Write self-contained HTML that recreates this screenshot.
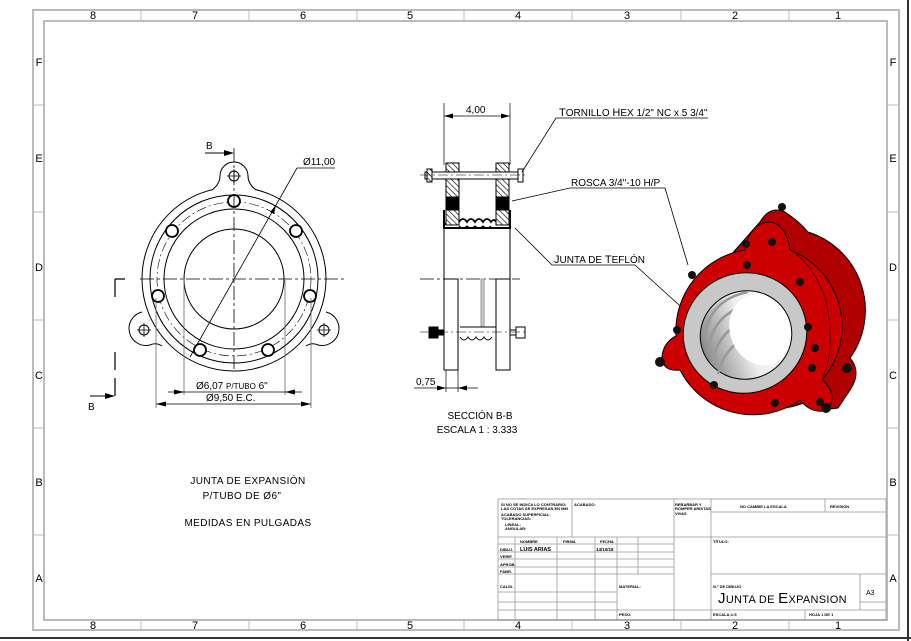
<!DOCTYPE html>
<html><head><meta charset="utf-8"><style>
html,body{margin:0;padding:0;background:#fff;}
svg{display:block;font-family:"Liberation Sans","DejaVu Sans",sans-serif;}
</style></head><body>
<svg width="911" height="641" viewBox="0 0 911 641" xmlns="http://www.w3.org/2000/svg">
<defs>
<pattern id="h" width="4" height="4" patternUnits="userSpaceOnUse" patternTransform="rotate(-45)">
<rect width="4" height="4" fill="#fff"/><line x1="0" y1="0" x2="0" y2="4" stroke="#000" stroke-width="1.3"/></pattern>
<linearGradient id="bore" x1="0" y1="0" x2="1" y2="0"><stop offset="0" stop-color="#888"/><stop offset="0.5" stop-color="#eee"/><stop offset="1" stop-color="#fff"/></linearGradient>
</defs>
<rect width="911" height="641" fill="#fff"/>
<line x1="908" y1="0" x2="908" y2="641" stroke="#333" stroke-width="2"/>
<line x1="0" y1="638" x2="911" y2="638" stroke="#333" stroke-width="2"/>
<rect x="33" y="10" width="866" height="620" fill="none" stroke="#bbb" stroke-width="2"/>
<rect x="44" y="21" width="843" height="599" fill="none" stroke="#bbb" stroke-width="2"/>
<g stroke="#bbb" stroke-width="1">
<line x1="141" y1="10" x2="141" y2="21"/><line x1="249" y1="10" x2="249" y2="21"/><line x1="357" y1="10" x2="357" y2="21"/><line x1="464" y1="10" x2="464" y2="21"/><line x1="572" y1="10" x2="572" y2="21"/><line x1="681" y1="10" x2="681" y2="21"/><line x1="789" y1="10" x2="789" y2="21"/>
<line x1="141" y1="620" x2="141" y2="630"/><line x1="249" y1="620" x2="249" y2="630"/><line x1="357" y1="620" x2="357" y2="630"/><line x1="464" y1="620" x2="464" y2="630"/><line x1="572" y1="620" x2="572" y2="630"/><line x1="681" y1="620" x2="681" y2="630"/><line x1="789" y1="620" x2="789" y2="630"/>
<line x1="33" y1="105" x2="44" y2="105"/><line x1="33" y1="212" x2="44" y2="212"/><line x1="33" y1="320" x2="44" y2="320"/><line x1="33" y1="428" x2="44" y2="428"/><line x1="33" y1="535" x2="44" y2="535"/>
<line x1="887" y1="105" x2="899" y2="105"/><line x1="887" y1="212" x2="899" y2="212"/><line x1="887" y1="320" x2="899" y2="320"/><line x1="887" y1="428" x2="899" y2="428"/><line x1="887" y1="535" x2="899" y2="535"/>
</g>
<g font-size="11" fill="#000" text-anchor="middle">
<text x="93" y="19">8</text><text x="195" y="19">7</text><text x="303" y="19">6</text><text x="410" y="19">5</text><text x="518" y="19">4</text><text x="627" y="19">3</text><text x="735" y="19">2</text><text x="838" y="19">1</text>
<text x="93" y="629">8</text><text x="195" y="629">7</text><text x="303" y="629">6</text><text x="410" y="629">5</text><text x="518" y="629">4</text><text x="627" y="629">3</text><text x="735" y="629">2</text><text x="838" y="629">1</text>
<text x="39" y="66">F</text><text x="39" y="162">E</text><text x="39" y="271">D</text><text x="39" y="379">C</text><text x="39" y="486">B</text><text x="39" y="582">A</text>
<text x="893" y="66">F</text><text x="893" y="162">E</text><text x="893" y="271">D</text><text x="893" y="379">C</text><text x="893" y="486">B</text><text x="893" y="582">A</text>
</g>

<!-- FRONT VIEW -->
<g fill="none" stroke="#000" stroke-width="1">
<circle cx="234" cy="279" r="92"/>
<path d="M212,190 Q220,184 220,176 A14,14 0 1 1 248,176 Q248,184 256,190" fill="#fff"/>
<path d="M142,312 A14,14 0 1 0 150,345 Q156,342 162,346" fill="none"/>
<path d="M326,312 A14,14 0 1 1 318,345 Q312,342 306,346" fill="none"/>
<circle cx="234" cy="279" r="84"/>
<circle cx="234" cy="279" r="70"/>
<circle cx="234" cy="279" r="50"/>
<circle cx="234" cy="279" r="77" stroke-dasharray="10,3,2,3" stroke-width="0.6"/>
<g stroke-width="1.8" fill="#fff">
<circle cx="234" cy="201" r="6"/><circle cx="172" cy="231" r="6"/><circle cx="296" cy="231" r="6"/>
<circle cx="158" cy="296" r="6"/><circle cx="310" cy="296" r="6"/><circle cx="200" cy="350" r="6"/><circle cx="268" cy="350" r="6"/>
</g>
<circle cx="234" cy="176" r="5"/><circle cx="144" cy="330" r="5"/><circle cx="324" cy="330" r="5"/>
<path d="M227,176h14M234,169v14M137,330h14M144,323v14M317,330h14M324,323v14" stroke-width="0.8"/>
<line x1="234" y1="148" x2="234" y2="370" stroke-dasharray="14,3,3,3" stroke-width="0.8"/>
<line x1="140" y1="279" x2="345" y2="279" stroke-dasharray="14,3,3,3" stroke-width="0.8"/>
<path d="M115,279h10M115,279v18M115,352v18M115,378v18" stroke-width="1.2"/>
<g stroke="#666" stroke-width="0.8">
<line x1="184" y1="280" x2="184" y2="395"/><line x1="285" y1="280" x2="285" y2="395"/>
<line x1="156" y1="298" x2="156" y2="408"/><line x1="311" y1="298" x2="311" y2="408"/>
</g>
<line x1="168" y1="392" x2="302" y2="392" stroke-width="0.8"/>
<line x1="156" y1="404" x2="311" y2="404" stroke-width="0.8"/>
<line x1="190" y1="357" x2="297" y2="168" stroke-width="0.8"/><line x1="297" y1="168" x2="335" y2="168" stroke-width="0.8"/>
<line x1="205" y1="153" x2="228" y2="153"/><line x1="90" y1="396" x2="110" y2="396"/>
</g>
<g fill="#000">
<path d="M234,153 l-10,-3 v6z"/><path d="M115,396 l-10,-3 v6z"/>
<path d="M184,392 l-10,-2.5 v5z"/><path d="M285,392 l10,-2.5 v5z"/>
<path d="M156,404 l10,-2.5 v5z"/><path d="M311,404 l-10,-2.5 v5z"/>
<path d="M276,205 l-2,9 -4,-2z"/>
</g>
<g font-size="10" fill="#000">
<text x="206" y="149">B</text><text x="88" y="410">B</text>
<text x="303" y="165">Ø11,00</text>
<text x="196" y="389">Ø6,07 <tspan font-size="8">P/TUBO</tspan> 6"</text>
<text x="206" y="401">Ø9,50 E.C.</text>
</g>

<!-- SECTION VIEW -->
<g fill="none" stroke="#000" stroke-width="1">
<line x1="444" y1="103" x2="444" y2="165" stroke-width="0.7"/><line x1="510" y1="103" x2="510" y2="165" stroke-width="0.7"/>
<line x1="444" y1="116" x2="510" y2="116" stroke-width="0.8"/>
<rect x="446" y="163" width="13" height="9" fill="url(#h)"/>
<rect x="496" y="163" width="13" height="9" fill="url(#h)"/>
<rect x="446" y="179" width="13" height="46" fill="url(#h)"/>
<rect x="496" y="179" width="13" height="46" fill="url(#h)"/>
<rect x="446" y="197" width="13" height="13" fill="#000"/>
<rect x="496" y="197" width="13" height="13" fill="#000"/>
<path d="M444,210 v18 h66 v-18 M444,224 h2 M509,224 h1" stroke-width="2"/>
<path d="M459,222 q4,-6 8,0 q4,-6 8,0 q4,-6 8,0 q4,-6 8,0 q3,-4 5,0" stroke-width="1.8"/>
<path d="M459,226 q4,4 8,0 q4,4 8,0 q4,4 8,0 q4,4 8,0" stroke-width="1.2"/>
<rect x="425" y="172" width="93" height="7" fill="#fff"/>
<rect x="518" y="169" width="5" height="13" fill="#fff"/>
<rect x="427" y="169" width="5" height="13" fill="url(#h)"/>
<line x1="420" y1="175" x2="525" y2="175" stroke-dasharray="10,3,2,3" stroke-width="0.6"/>
<line x1="444" y1="228" x2="444" y2="348"/><line x1="510" y1="228" x2="510" y2="348"/>
<line x1="420" y1="279" x2="520" y2="279" stroke-dasharray="14,3,3,3" stroke-width="0.8"/>
<rect x="444" y="279" width="14" height="91" fill="#fff"/>
<rect x="496" y="279" width="14" height="91" fill="#fff"/>
<rect x="481" y="279" width="3" height="48" fill="#ccc" stroke="#999"/>
<line x1="460" y1="327" x2="496" y2="327"/>
<path d="M460,337 q4,6 8,0 q4,6 8,0 q4,6 8,0 q4,6 8,0" stroke-width="1"/>
<rect x="429" y="327" width="9" height="11" fill="#000"/>
<rect x="438" y="330" width="6" height="5" fill="#000"/>
<rect x="510" y="330" width="6" height="5" fill="#fff"/>
<rect x="516" y="327" width="9" height="11" fill="#fff"/>
<line x1="420" y1="332" x2="528" y2="332" stroke-dasharray="10,3,2,3" stroke-width="0.6"/>
<line x1="446" y1="370" x2="446" y2="392" stroke-width="0.7"/><line x1="458" y1="370" x2="458" y2="392" stroke-width="0.7"/>
<line x1="414" y1="388" x2="478" y2="388" stroke-width="0.8"/>
<path d="M522,172 L556,118 H708" stroke-width="0.8"/>
<path d="M512,201 L570,188 H665 L688,265" stroke-width="0.8"/>
<path d="M515,228 L552,265 H635 L690,315" stroke-width="0.8"/>
</g>
<g fill="#000">
<path d="M444,116 l9,-2.5 v5z"/><path d="M510,116 l-9,-2.5 v5z"/>
<path d="M446,388 l-9,-2.5 v5z"/><path d="M458,388 l9,-2.5 v5z"/>
</g>
<g font-size="10" fill="#000">
<text x="466" y="113">4,00</text>
<text x="416" y="385">0,75</text>
<text x="559" y="116"><tspan font-size="11">T</tspan>ORNILLO <tspan font-size="11">H</tspan>EX 1/2" NC x 5 3/4"</text>
<text x="571" y="186">ROSCA 3/4"-10 H/P</text>
<text x="554" y="263"><tspan font-size="11">J</tspan>UNTA DE <tspan font-size="11">T</tspan>EFLÓN</text>
<text x="480" y="419" text-anchor="middle">SECCIÓN B-B</text>
<text x="477" y="433" text-anchor="middle">ESCALA 1 : 3.333</text>
</g>

<!-- 3D VIEW -->
<g stroke="#000" stroke-width="1">
<path d="M760,222 Q770,205 785,212 Q800,222 808,232 A82,82 0 0 1 850,358 Q862,372 850,390 L838,408 Q815,412 810,400 A82,82 0 0 1 700,290 Z" fill="#b00000"/>
<path d="M745,250 Q750,222 770,222 Q786,224 790,250 A82,82 0 0 1 822,380 Q838,392 828,410 Q812,415 800,400 A82,82 0 0 1 680,370 Q662,372 662,356 Q664,342 676,336 A82,82 0 0 1 745,250 Z" fill="#cc0000"/>
<path d="M790,250 Q812,262 826,300 Q836,350 822,380" fill="none" stroke="#500" stroke-width="1"/>
<ellipse cx="745" cy="333" rx="62" ry="60" fill="#c8c8c8" transform="rotate(-20 745 333)"/>
<ellipse cx="746" cy="335" rx="46" ry="44" fill="url(#bore)" transform="rotate(-20 746 335)"/>
<path d="M704,340 Q708,300 748,292 M708,352 Q712,312 752,304 M712,364 Q718,326 758,316 M718,374 Q726,340 764,330" fill="none" stroke="#999" stroke-width="2.5"/>
<ellipse cx="760" cy="330" rx="30" ry="36" fill="#fff" stroke="none" transform="rotate(-20 760 330)"/>
</g>
<g fill="#111">
<circle cx="692" cy="275" r="4"/><circle cx="746" cy="244" r="4"/><circle cx="747" cy="265" r="4"/><circle cx="772" cy="242" r="4"/>
<circle cx="800" cy="282" r="4"/><circle cx="808" cy="327" r="4"/><circle cx="815" cy="348" r="4"/><circle cx="812" cy="368" r="4"/>
<circle cx="677" cy="330" r="4"/><circle cx="714" cy="385" r="4"/><circle cx="775" cy="403" r="4"/><circle cx="820" cy="402" r="4"/>
<circle cx="660" cy="362" r="5"/><circle cx="782" cy="207" r="4"/><circle cx="847" cy="368" r="5"/><circle cx="826" cy="408" r="5"/>
</g>

<!-- TITLE BLOCK -->
<g fill="none" stroke="#999" stroke-width="0.8">
<rect x="498" y="499" width="388" height="121"/>
<line x1="498" y1="537" x2="886" y2="537"/>
<line x1="572" y1="499" x2="572" y2="537"/><line x1="674" y1="499" x2="674" y2="620"/><line x1="711" y1="499" x2="711" y2="620"/>
<line x1="825" y1="499" x2="825" y2="512"/><line x1="711" y1="512" x2="886" y2="512"/>
<line x1="498" y1="544" x2="674" y2="544"/><line x1="498" y1="552" x2="674" y2="552"/><line x1="498" y1="559" x2="674" y2="559"/><line x1="498" y1="567" x2="674" y2="567"/><line x1="498" y1="574" x2="674" y2="574"/>
<line x1="498" y1="592" x2="617" y2="592"/><line x1="498" y1="602" x2="617" y2="602"/><line x1="498" y1="610" x2="886" y2="610"/>
<line x1="711" y1="574" x2="886" y2="574"/>
<line x1="515" y1="537" x2="515" y2="620"/><line x1="557" y1="537" x2="557" y2="620"/><line x1="595" y1="537" x2="595" y2="620"/>
<line x1="617" y1="537" x2="617" y2="620"/><line x1="638" y1="537" x2="638" y2="574"/>
<line x1="860" y1="574" x2="860" y2="610"/><line x1="860" y1="602" x2="886" y2="602"/>
<line x1="805" y1="610" x2="805" y2="620"/>
</g>
<g font-size="4" font-weight="bold" fill="#000">
<text x="501" y="506">SI NO SE INDICA LO CONTRARIO:</text><text x="501" y="510">LAS COTAS SE EXPRESAN EN MM</text>
<text x="501" y="516">ACABADO SUPERFICIAL:</text><text x="501" y="520">TOLERANCIAS:</text>
<text x="505" y="526">LINEAL:</text><text x="505" y="530">ANGULAR:</text>
<text x="574" y="506">ACABADO:</text>
<text x="675" y="506">REBARBAR Y</text><text x="675" y="510">ROMPER ARISTAS</text><text x="675" y="515">VIVAS</text>
<text x="740" y="508">NO CAMBIE LA ESCALA</text><text x="830" y="508">REVISIÓN</text>
<text x="520" y="543">NOMBRE</text><text x="563" y="543">FIRMA</text><text x="600" y="543">FECHA</text>
<text x="713" y="543">TÍTULO:</text>
<text x="500" y="551">DIBUJ.</text><text x="500" y="558">VERIF.</text><text x="500" y="566">APROB.</text><text x="500" y="573">FABR.</text><text x="500" y="588">CALID.</text>
<text x="619" y="588">MATERIAL:</text><text x="713" y="588">N.º DE DIBUJO</text>
<text x="619" y="616">PESO:</text><text x="713" y="616">ESCALA:1:5</text><text x="809" y="616">HOJA 1 DE 1</text>
</g>
<g fill="#000">
<text x="520" y="551" font-size="5.5" font-weight="bold">LUIS ARIAS</text>
<text x="596" y="551" font-size="4.5" font-weight="bold">14/10/18</text>
<text x="718" y="603" font-size="15" letter-spacing="0.3">J<tspan font-size="11">UNTA DE </tspan>E<tspan font-size="11">XPANSION</tspan></text>
<text x="866" y="595" font-size="7">A3</text>
</g>

<g font-size="10" fill="#000" text-anchor="middle" letter-spacing="0.4">
<text x="248" y="484">JUNTA DE EXPANSIÓN</text>
<text x="242" y="499">P/TUBO DE Ø6"</text>
<text x="248" y="526">MEDIDAS EN PULGADAS</text>
</g>
</svg>
</body></html>
